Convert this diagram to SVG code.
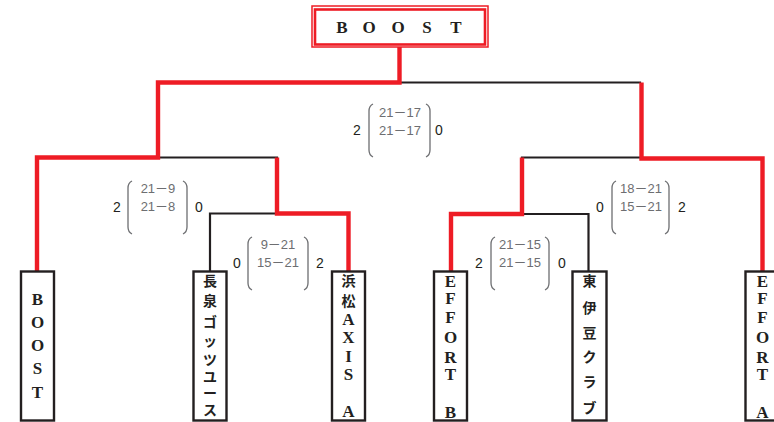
<svg xmlns="http://www.w3.org/2000/svg" width="774" height="422" viewBox="0 0 774 422">
<style>
.blk{fill:none;stroke:#231f20;stroke-width:2.2;stroke-linecap:square}
.red{fill:none;stroke:#ee1c25;stroke-width:4.4;stroke-linejoin:miter;stroke-linecap:butt}
.box{fill:#fff;stroke:#231f20;stroke-width:2.4}
.lat{font-family:"Liberation Serif","Noto Sans CJK JP",serif;font-weight:bold;font-size:17px;fill:#231f20;text-anchor:middle}
.jp{font-family:"Noto Sans CJK JP",sans-serif;font-weight:bold;font-size:14px;fill:#231f20;text-anchor:middle}
.sc{font-family:"Liberation Sans","Noto Sans CJK JP",sans-serif;font-size:13px;fill:#6d6e71;text-anchor:middle}
.gm{font-family:"Liberation Sans",sans-serif;font-size:14px;fill:#231f20;text-anchor:middle}
.par{fill:none;stroke:#6d6e71;stroke-width:1.3}
</style>
<g id="connectors">
  <path class="blk" d="M158 82.5H640"/>
  <path class="blk" d="M37 157.5H277"/>
  <path class="blk" d="M210 271V213.5H277"/>
  <path class="blk" d="M522 157.5H640"/>
  <path class="blk" d="M522 214H588.5V271"/>
  <path class="red" d="M399.5 47V82.5H158V157.5H37V271"/>
  <path class="red" d="M277 157.5V213.5H348.5V271"/>
  <path class="red" d="M641.5 82.5V158.5H762.5V271"/>
  <path class="red" d="M522 157.5V214H451V271"/>
</g>
<g id="champion">
  <rect x="312" y="6" width="176" height="41" fill="#fff" stroke="#ee1c25" stroke-width="1.5"/>
  <rect x="315" y="9.5" width="170" height="35" fill="none" stroke="#ee1c25" stroke-width="2.6"/>
  <text class="lat" font-size="18" x="342 369 398 427 456" y="33">BOOST</text>
</g>
<g id="team-boost">
  <rect class="box" x="21" y="271.5" width="33" height="149"/>
  <text class="lat" x="37.5 37.5 37.5 37.5 37.5" y="305 328 351 374 398">BOOST</text>
</g>
<g id="team-nagaizumi">
  <rect class="box" x="193.5" y="271.5" width="33" height="149"/>
  <text class="jp" x="210 210 210 210 210 210 210 210" y="286 306 327 346 365 382 398 415">長泉ゴッツユース</text>
</g>
<g id="team-hamamatsu">
  <rect class="box" x="332" y="271.5" width="33" height="149"/>
  <text class="jp"><tspan x="348.5 348.5" y="286 306">浜松</tspan><tspan class="lat" x="348.5 348.5 348.5 348.5 348.5 348.5" y="325 343 362 380 399 417">AXIS A</tspan></text>
</g>
<g id="team-effort-b">
  <rect class="box" x="434" y="271.5" width="33" height="149"/>
  <text class="lat" x="450.5 450.5 450.5 450.5 450.5 450.5 450.5 450.5" y="287 304 323 343 363 380 399 418">EFFORT B</text>
</g>
<g id="team-higashiizu">
  <rect class="box" x="572.5" y="271.5" width="34" height="149"/>
  <text class="jp" x="589.5 589.5 589.5 589.5 589.5 589.5" y="286 313 338 362 387 413">東伊豆クラブ</text>
</g>
<g id="team-effort-a">
  <rect class="box" x="745.5" y="271.5" width="34" height="149"/>
  <text class="lat" x="762.5 762.5 762.5 762.5 762.5 762.5 762.5 762.5" y="287 304 323 343 363 380 399 418">EFFORT A</text>
</g>
<g id="score-final">
  <path class="par" d="M373 104Q369 106 369 111V150Q369 155 373 157"/>
  <path class="par" d="M426 104Q430 106 430 111V150Q430 155 426 157"/>
  <text class="sc" x="400" y="116.5">21－17</text>
  <text class="sc" x="400" y="134.5">21－17</text>
  <text class="gm" x="357" y="135">2</text>
  <text class="gm" x="439" y="135">0</text>
</g>
<g id="score-semi-left">
  <path class="par" d="M132 181Q128 183 128 188V227Q128 232 132 234"/>
  <path class="par" d="M183 181Q187 183 187 188V227Q187 232 183 234"/>
  <text class="sc" x="158" y="192.5">21－9</text>
  <text class="sc" x="158" y="211">21－8</text>
  <text class="gm" x="117" y="211.5">2</text>
  <text class="gm" x="199" y="211.5">0</text>
</g>
<g id="score-qf-left">
  <path class="par" d="M252 237Q248 239 248 244V283Q248 288 252 290"/>
  <path class="par" d="M304 237Q308 239 308 244V283Q308 288 304 290"/>
  <text class="sc" x="278" y="248.5">9－21</text>
  <text class="sc" x="278" y="267">15－21</text>
  <text class="gm" x="237" y="267.5">0</text>
  <text class="gm" x="320" y="267.5">2</text>
</g>
<g id="score-semi-right">
  <path class="par" d="M616 181Q612 183 612 188V227Q612 232 616 234"/>
  <path class="par" d="M665 181Q669 183 669 188V227Q669 232 665 234"/>
  <text class="sc" x="641" y="192.5">18－21</text>
  <text class="sc" x="641" y="211">15－21</text>
  <text class="gm" x="600" y="211.5">0</text>
  <text class="gm" x="682" y="211.5">2</text>
</g>
<g id="score-qf-right">
  <path class="par" d="M495 237Q491 239 491 244V283Q491 288 495 290"/>
  <path class="par" d="M545 237Q549 239 549 244V283Q549 288 545 290"/>
  <text class="sc" x="520" y="248.5">21－15</text>
  <text class="sc" x="520" y="267">21－15</text>
  <text class="gm" x="479" y="267.5">2</text>
  <text class="gm" x="562" y="267.5">0</text>
</g>
</svg>
